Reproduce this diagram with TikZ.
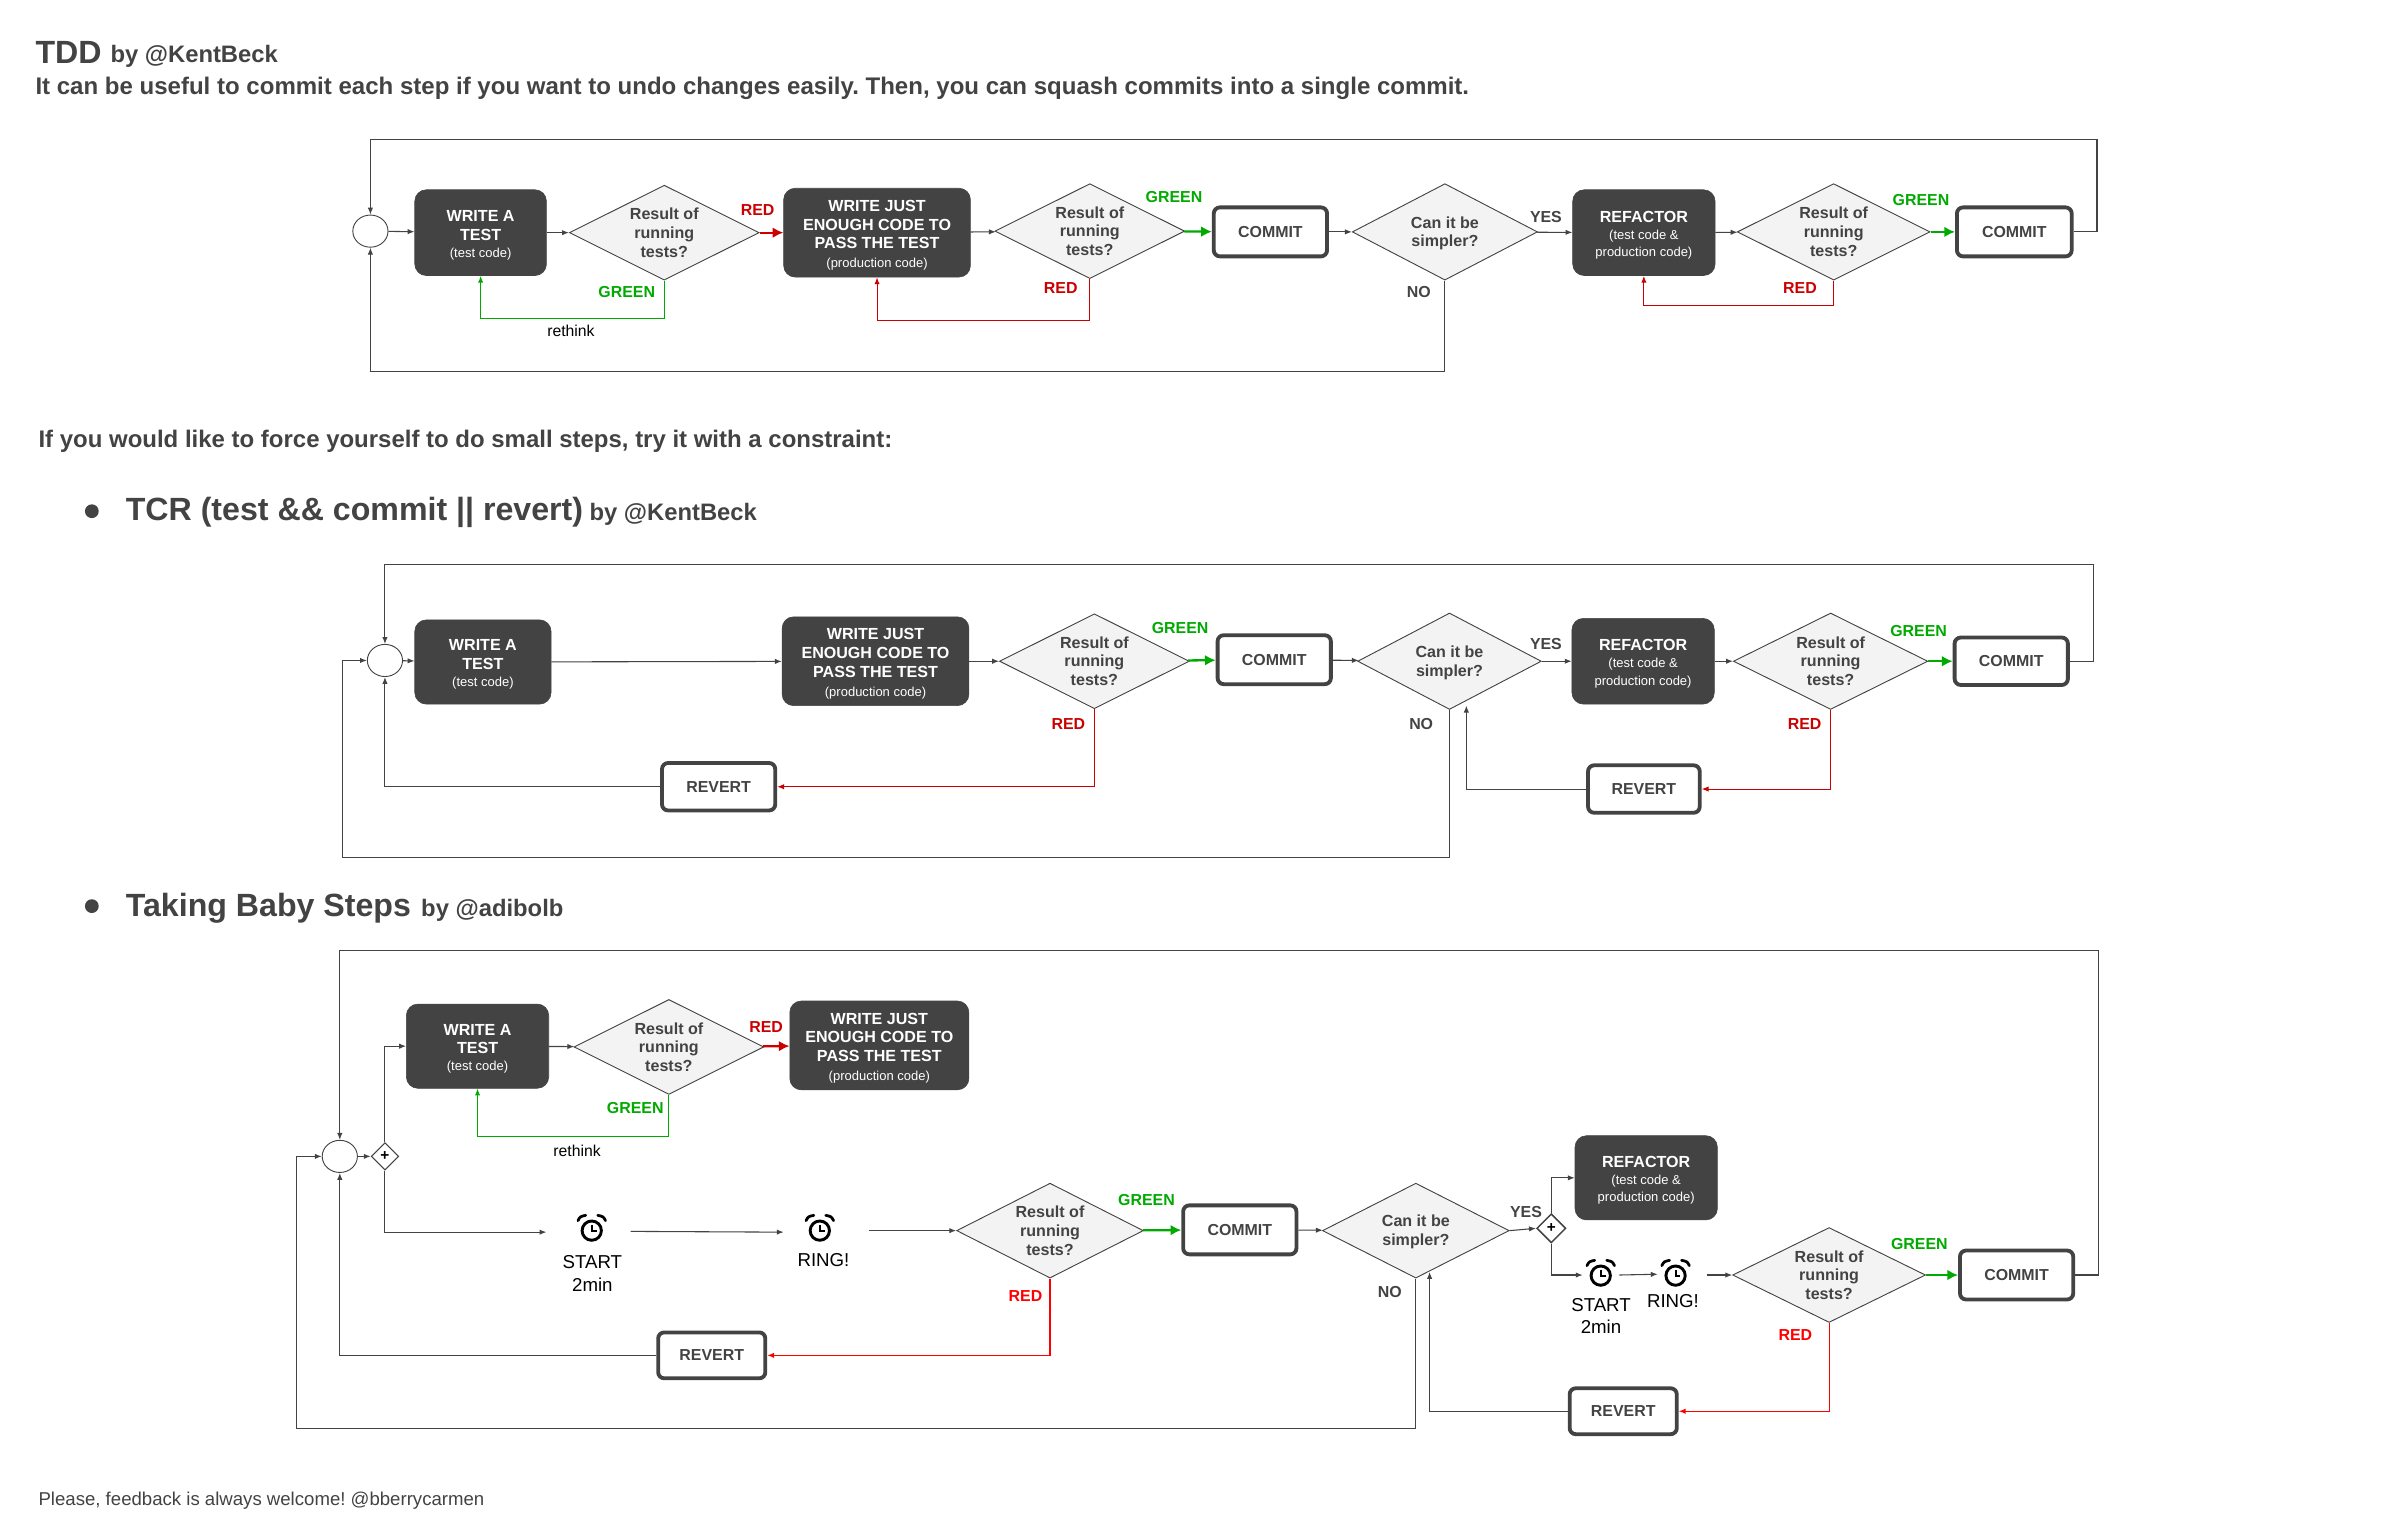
\documentclass[tikz,border=0pt]{standalone}
\usepackage{fontspec}
\setmainfont{Liberation Sans}
\usetikzlibrary{shapes.geometric,arrows.meta}
\definecolor{dk}{HTML}{434343}
\definecolor{lt}{HTML}{F3F3F3}
\definecolor{grn}{HTML}{00AA00}
\definecolor{rd}{HTML}{CC0000}
\definecolor{brd}{HTML}{FF0000}
\newcommand{\fs}[2]{\fontsize{#1}{#2}\selectfont}
\newcommand{\subt}[1]{{\fs{8.5}{11.6}\mdseries #1}}
\newcommand{\wrt}{\rule{0pt}{10.6pt}WRITE A\\TEST\\[-1pt]\subt{(test code)}}
\newcommand{\wjc}{\rule{0pt}{10.6pt}WRITE JUST\\ENOUGH CODE TO\\PASS THE TEST\\\subt{(production code)}}
\newcommand{\rfc}{\rule{0pt}{10.6pt}REFACTOR\\[-1pt]\subt{(test code \&}\\[-1pt]\subt{production code)}}
\newcommand{\rrt}{Result of\\running\\tests?}
\newcommand{\cbs}{\rule{0pt}{9.6pt}Can it be\\simpler?}
\frenchspacing
\tikzset{
 tbox/.style={rectangle,rounded corners=7.5,fill=dk,draw=dk,text=white,align=center,inner sep=0,font=\fs{10.5}{12.2}\bfseries},
 dec/.style={diamond,aspect=2,fill=lt,draw=dk,line width=.6,text=dk,align=center,inner sep=0,font=\fs{10.5}{12.2}\bfseries},
 cbox/.style={rectangle,rounded corners=4,fill=white,draw=dk,line width=2.5,text=dk,inner sep=0,font=\fs{10.4}{12.2}\bfseries},
 circ/.style={ellipse,draw=dk,fill=white,line width=.6,minimum width=23,minimum height=21,inner sep=0},
 gate/.style={diamond,aspect=1,draw=dk,fill=white,line width=.7,inner sep=0,text=black,font=\fs{10}{10}\bfseries},
 conn/.style={draw=dk,line width=.7,-{Latex[length=4.5,width=3.5]}},
 rline/.style={draw=rd,line width=.7,-{Latex[length=4.5,width=3.5]}},
 bline/.style={draw=brd,line width=.7,-{Latex[length=4.5,width=3.5]}},
 gline/.style={draw=grn,line width=.7,-{Latex[length=4.5,width=3.5]}},
 rthick/.style={draw=rd,line width=1.5,-{Latex[length=7,width=7]}},
 gthick/.style={draw=grn,line width=1.5,-{Latex[length=7,width=7]}},
 lgrn/.style={text=grn,font=\fs{10.4}{12}\bfseries,inner sep=0},
 lred/.style={text=rd,font=\fs{10.4}{12}\bfseries,inner sep=0},
 lbrd/.style={text=brd,font=\fs{10.4}{12}\bfseries,inner sep=0},
 ldk/.style={text=dk,font=\fs{10.4}{12}\bfseries,inner sep=0},
 plain/.style={text=black,font=\fs{10.3}{12},inner sep=0},
 clk/.style={text=black,align=center,inner sep=0,font=\fs{12.2}{14.4}},
 ttl/.style={text=dk,anchor=west,inner sep=0},
 alarm/.pic={
  \draw[black,line width=1.9] (0,0) circle (6.3);
  \draw[black,line width=1.3] (0,-3.8) -- (0,0.5) -- (3.2,0.5);
  \draw[black,line width=1.8,line cap=round] (-9,-6.5) .. controls (-7.6,-9.2) .. (-3.9,-10);
  \draw[black,line width=1.8,line cap=round] (9,-6.5) .. controls (7.6,-9.2) .. (3.9,-10);
 }
}
\begin{document}
\begin{tikzpicture}[x=1pt,y=-1pt]
\useasboundingbox[fill=white] (0,0) rectangle (1568,1003.5);
% Headings
\node[ttl] (h1) at (23,34) {\fs{21}{24}\bfseries TDD};
\node[ttl] (h1b) at (72,37) {\fs{15.55}{18}\bfseries by @KentBeck};
\node[ttl] (h2) at (23,58) {\fs{15.7}{18}\bfseries It can be useful to commit each step if you want to undo changes easily. Then, you can squash commits into a single commit.};
\node[ttl] (h3) at (25,288.5) {\fs{15.66}{18}\bfseries If you would like to force yourself to do small steps, try it with a constraint:};
\node[circle,fill=dk,minimum size=9,inner sep=0] (b1) at (60,334) {};
\node[ttl] (h4) at (82,335) {\fs{21}{24}\bfseries TCR (test \&\& commit || revert)};
\node[ttl] (h4b) at (385,336) {\fs{15.55}{18}\bfseries by @KentBeck};
\node[circle,fill=dk,minimum size=9,inner sep=0] (b2) at (60,592) {};
\node[ttl] (h5) at (82,593.5) {\fs{21}{24}\bfseries Taking Baby Steps};
\node[ttl] (h5b) at (275,595) {\fs{15.55}{18}\bfseries by @adibolb};
\node[ttl] (foot) at (25,980.5) {\fs{12.15}{14}Please, feedback is always welcome! @bberrycarmen};

% ---------- Row 1
\node[circ] (a0) at (242,151) {};
\node[tbox,minimum width=86,minimum height=56] (a1) at (314,152) {\wrt};
\node[dec,minimum width=124,minimum height=62] (a2) at (434,152) {\rrt};
\node[tbox,minimum width=122,minimum height=58] (a3) at (573,152) {\wjc};
\node[dec,minimum width=124,minimum height=62] (a4) at (712,151) {\rrt};
\node[cbox,minimum width=74,minimum height=32] (a5) at (830,151.5) {COMMIT};
\node[dec,minimum width=121,minimum height=63] (a6) at (944,151.5) {\cbs};
\node[tbox,minimum width=93,minimum height=56] (a7) at (1074,152) {\rfc};
\node[dec,minimum width=126,minimum height=63] (a8) at (1198,151.5) {\rrt};
\node[cbox,minimum width=75,minimum height=32] (a9) at (1316,151.5) {COMMIT};
\coordinate (al) at (1370,91);
\coordinate (ab) at (942,243);
\draw[conn] (a0) -- (a1);
\draw[conn] (a1) -- (a2);
\draw[rthick] (a2) -- (a3);
\draw[conn] (a3) -- (a4);
\draw[gthick] (a4) -- (a5);
\draw[conn] (a5) -- (a6);
\draw[conn] (a6) -- (a7);
\draw[conn] (a7) -- (a8);
\draw[gthick] (a8) -- (a9);
\draw[conn] (a9.east) -| (al) -| (a0.north);
\draw[conn] (a6.south) |- (a0.south |- ab) -- (a0.south);
\draw[gline] (a2.south) -- ++(0,25) -| (a1.south);
\draw[rline] (a4.south) -- ++(0,27) -| (a3.south);
\draw[rline] (a8.south) -- ++(0,16) -| (a7.south);
\node[lred] (a2r) at (495,137) {RED};
\node[lgrn] (a2g) at (409.5,190.5) {GREEN};
\node[plain] (a2t) at (373,216) {rethink};
\node[lgrn] (a4g) at (767,129) {GREEN};
\node[lred] (a4r) at (693,188) {RED};
\node[ldk] (a6y) at (1010,142) {YES};
\node[ldk] (a6n) at (927,190.5) {NO};
\node[lgrn] (a8g) at (1255,131) {GREEN};
\node[lred] (a8r) at (1176,188.5) {RED};

% ---------- Row 2
\node[circ] (b0) at (251.5,431.5) {};
\node[tbox,minimum width=89,minimum height=55] (b1a) at (315.5,432.5) {\wrt};
\node[tbox,minimum width=122,minimum height=58] (b3) at (572,432) {\wjc};
\node[dec,minimum width=124,minimum height=62] (b4) at (715,432) {\rrt};
\node[cbox,minimum width=74,minimum height=32] (b5) at (832.5,431) {COMMIT};
\node[dec,minimum width=120,minimum height=63] (b6) at (947,432) {\cbs};
\node[tbox,minimum width=93,minimum height=56] (b7) at (1073.5,432) {\rfc};
\node[dec,minimum width=127,minimum height=63] (b8) at (1196,432) {\rrt};
\node[cbox,minimum width=74,minimum height=31] (b9) at (1314,432) {COMMIT};
\node[cbox,minimum width=74,minimum height=31] (br1) at (469.5,514) {REVERT};
\node[cbox,minimum width=73,minimum height=31] (br2) at (1074,515.5) {REVERT};
\coordinate (bl) at (1368,369);
\coordinate (bb) at (224,560);
\coordinate (bu) at (958,461);
\draw[conn] (b0) -- (b1a);
\draw[conn] (b1a) -- (b3);
\draw[conn] (b3) -- (b4);
\draw[gthick] (b4) -- (b5);
\draw[conn] (b5) -- (b6);
\draw[conn] (b6) -- (b7);
\draw[conn] (b7) -- (b8);
\draw[gthick] (b8) -- (b9);
\draw[conn] (b9.east) -| (bl) -| (b0.north);
\draw[rline] (b4.south) |- (br1.east);
\draw[conn] (br1.west) -| (b0.south);
\draw[conn] (b6.south) |- (bb) |- (b0.west);
\draw[rline] (b8.south) |- (br2.east);
\draw[conn] (br2.west) -| (bu);
\node[lgrn] (b4g) at (771,410) {GREEN};
\node[lred] (b4r) at (698,473) {RED};
\node[ldk] (b6y) at (1010,421) {YES};
\node[ldk] (b6n) at (928.5,473) {NO};
\node[lgrn] (b8g) at (1253.5,412) {GREEN};
\node[lred] (b8r) at (1179,473) {RED};

% ---------- Row 3
\node[circ] (c0) at (222,755.5) {};
\node[gate,minimum size=18] (cg) at (251.5,755.5) {+};
\node[tbox,minimum width=93,minimum height=55] (c1) at (312,683.5) {\wrt};
\node[dec,minimum width=124,minimum height=62] (c2) at (437,684) {\rrt};
\node[tbox,minimum width=117,minimum height=58] (c3) at (574.5,683) {\wjc};
\path (386.6,804) pic {alarm};
\coordinate (cs1) at (357,805);
\coordinate (cs1o) at (412,804.5);
\coordinate (cr1i) at (512,805);
\coordinate (cr1o) at (568,804);
\path (535.6,804) pic {alarm};
\node[clk] (cs1t) at (387,832) {START\\2min};
\node[clk] (cr1t) at (538,823) {RING!};
\node[dec,minimum width=122,minimum height=62] (c4) at (686,804) {\rrt};
\node[cbox,minimum width=74,minimum height=32] (c5) at (810,803.5) {COMMIT};
\node[dec,minimum width=122,minimum height=62] (c6) at (925,804) {\cbs};
\node[gate,minimum width=19,minimum height=19,line width=1] (cg2) at (1013.5,802.5) {+};
\node[tbox,minimum width=93,minimum height=55] (c7) at (1075.5,769.5) {\rfc};
\path (1045.8,833.4) pic {alarm};
\path (1094.7,833.4) pic {alarm};
\coordinate (cs2) at (1034,833);
\coordinate (cs2o) at (1058,833);
\coordinate (cr2i) at (1083,832.5);
\coordinate (cr2o) at (1115,833);
\node[clk] (cs2t) at (1046,859.5) {START\\2min};
\node[clk] (cr2t) at (1093,850) {RING!};
\node[dec,minimum width=126,minimum height=62] (c8) at (1195,833) {\rrt};
\node[cbox,minimum width=74,minimum height=32] (c9) at (1317.5,833) {COMMIT};
\node[cbox,minimum width=70,minimum height=30] (cr1) at (465,885.5) {REVERT};
\node[cbox,minimum width=70,minimum height=30] (cr2) at (1060.5,922) {REVERT};
\coordinate (cl) at (1371,621);
\coordinate (cb) at (194,933);
\coordinate (cu) at (934,831);
\draw[conn] (c0) -- (cg);
\draw[conn] (cg.north) |- (c1.west);
\draw[conn] (c1) -- (c2);
\draw[rthick] (c2) -- (c3);
\draw[gline] (c2.south) -- ++(0,27) -| (c1.south);
\draw[conn] (cg.south) |- (cs1);
\draw[conn] (cs1o) -- (cr1i);
\draw[conn] (cr1o) -- (c4.west);
\draw[gthick] (c4) -- (c5);
\draw[conn] (c5) -- (c6);
\draw[conn] (c6.east) -- (cg2.west);
\draw[conn] (cg2.north) |- (c7.west);
\draw[conn] (cg2.south) |- (cs2);
\draw[conn] (cs2o) -- (cr2i);
\draw[conn] (cr2o) -- (c8.west);
\draw[gthick] (c8) -- (c9);
\draw[conn] (c9.east) -| (cl) -| (c0.north);
\draw[bline] (c4.south) |- (cr1.east);
\draw[conn] (cr1.west) -| (c0.south);
\draw[conn] (c6.south) |- (cb) |- (c0.west);
\draw[bline] (c8.south) |- (cr2.east);
\draw[conn] (cr2.west) -| (cu);
\node[lred] (c2r) at (500.5,671) {RED};
\node[lgrn] (c2g) at (415,724) {GREEN};
\node[plain] (c2t) at (377,752) {rethink};
\node[lgrn] (c4g) at (749,784) {GREEN};
\node[lbrd] (c4r) at (670,847) {RED};
\node[ldk] (c6y) at (997,792) {YES};
\node[ldk] (c6n) at (908,844) {NO};
\node[lgrn] (c8g) at (1254,813) {GREEN};
\node[lbrd] (c8r) at (1173,872.5) {RED};
\end{tikzpicture}
\end{document}
